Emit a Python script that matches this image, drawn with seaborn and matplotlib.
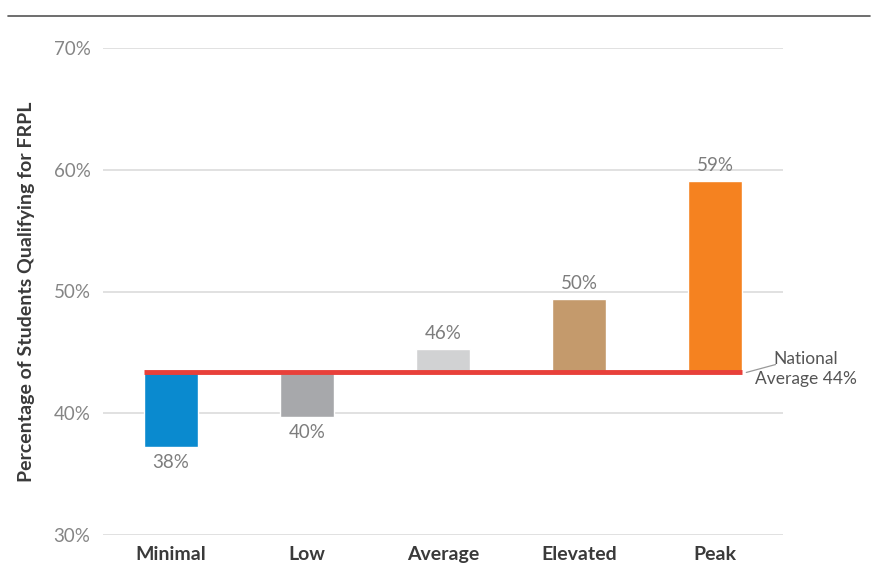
import numpy as np
import pandas as pd
import matplotlib
matplotlib.use("Agg")
import matplotlib.pyplot as plt
import seaborn as sns

categories = ["Minimal", "Low", "Average", "Elevated", "Peak"]
values = [37.2, 39.7, 45.3, 49.4, 59.1]
value_labels = ["38%", "40%", "46%", "50%", "59%"]
national_avg = 43.4
national_label = "National\nAverage 44%"
colors = ["#0A8ACF", "#A7A8AB", "#D1D2D3", "#C49A6C", "#F58220"]
yticks = [30, 40, 50, 60, 70]
ytick_labels = ["30%", "40%", "50%", "60%", "70%"]
ylabel = "Percentage of Students Qualifying for FRPL"

sns.set_theme(style="white")
plt.rcParams["font.family"] = ["Lato", "DejaVu Sans"]

fig = plt.figure(figsize=(8.83, 5.75), dpi=100)
ax = fig.add_axes([103/883, 1-535/575, 680/883, (535-48)/575])

df = pd.DataFrame({"cat": categories, "diff": np.array(values) - national_avg})
sns.barplot(data=df, x="cat", y="diff", hue="cat", palette=colors, legend=False,
            bottom=national_avg, width=0.4, ax=ax, zorder=3, saturation=1)

ax.set_xlim(-0.5, 4.5)
ax.set_ylim(30, 70)
ax.set_yticks(yticks)
ax.set_yticklabels(ytick_labels, color="#858585", fontsize=13.5, fontweight="normal")
ax.grid(axis="y", color="#dcdcdc", linewidth=1.2, zorder=0)
ax.tick_params(axis="y", length=0, pad=9)
ax.tick_params(axis="x", length=0, pad=8)
for lab in ax.get_xticklabels():
    lab.set_fontweight("bold")
    lab.set_fontsize(14)
    lab.set_color("#3a3a3a")
ax.set_xlabel("")
ax.set_ylabel(ylabel, fontsize=14, fontweight="bold", color="#3a3a3a")
ax.yaxis.set_label_coords(-0.1, 0.5)
sns.despine(ax=ax, left=True, bottom=True)

# national average line
ax.hlines(national_avg, -0.2, 4.2, color="#E8403A", linewidth=3.5, zorder=4)
ax.plot([4.23, 4.445], [national_avg - 0.05, national_avg + 0.6], color="#999999",
        lw=0.9, clip_on=False, zorder=4)
ax.text(4.67, national_avg + 0.25, national_label, fontsize=12.5, color="#555555",
        ha="center", va="center", multialignment="center", linespacing=1.3)

for i, (v, lab) in enumerate(zip(values, value_labels)):
    if v >= national_avg:
        ax.text(i, v + 0.55, lab, ha="center", va="bottom", fontsize=13.5,
                color="#7d7d7d")
    else:
        ax.text(i, v - 0.55, lab, ha="center", va="top", fontsize=13.5,
                color="#7d7d7d")

# top rule (header separator)
fig.add_artist(plt.Line2D([8/883, 870/883], [1-16/575, 1-16/575], color="#555555", lw=1.2))

fig.savefig("out.png", dpi=100)
